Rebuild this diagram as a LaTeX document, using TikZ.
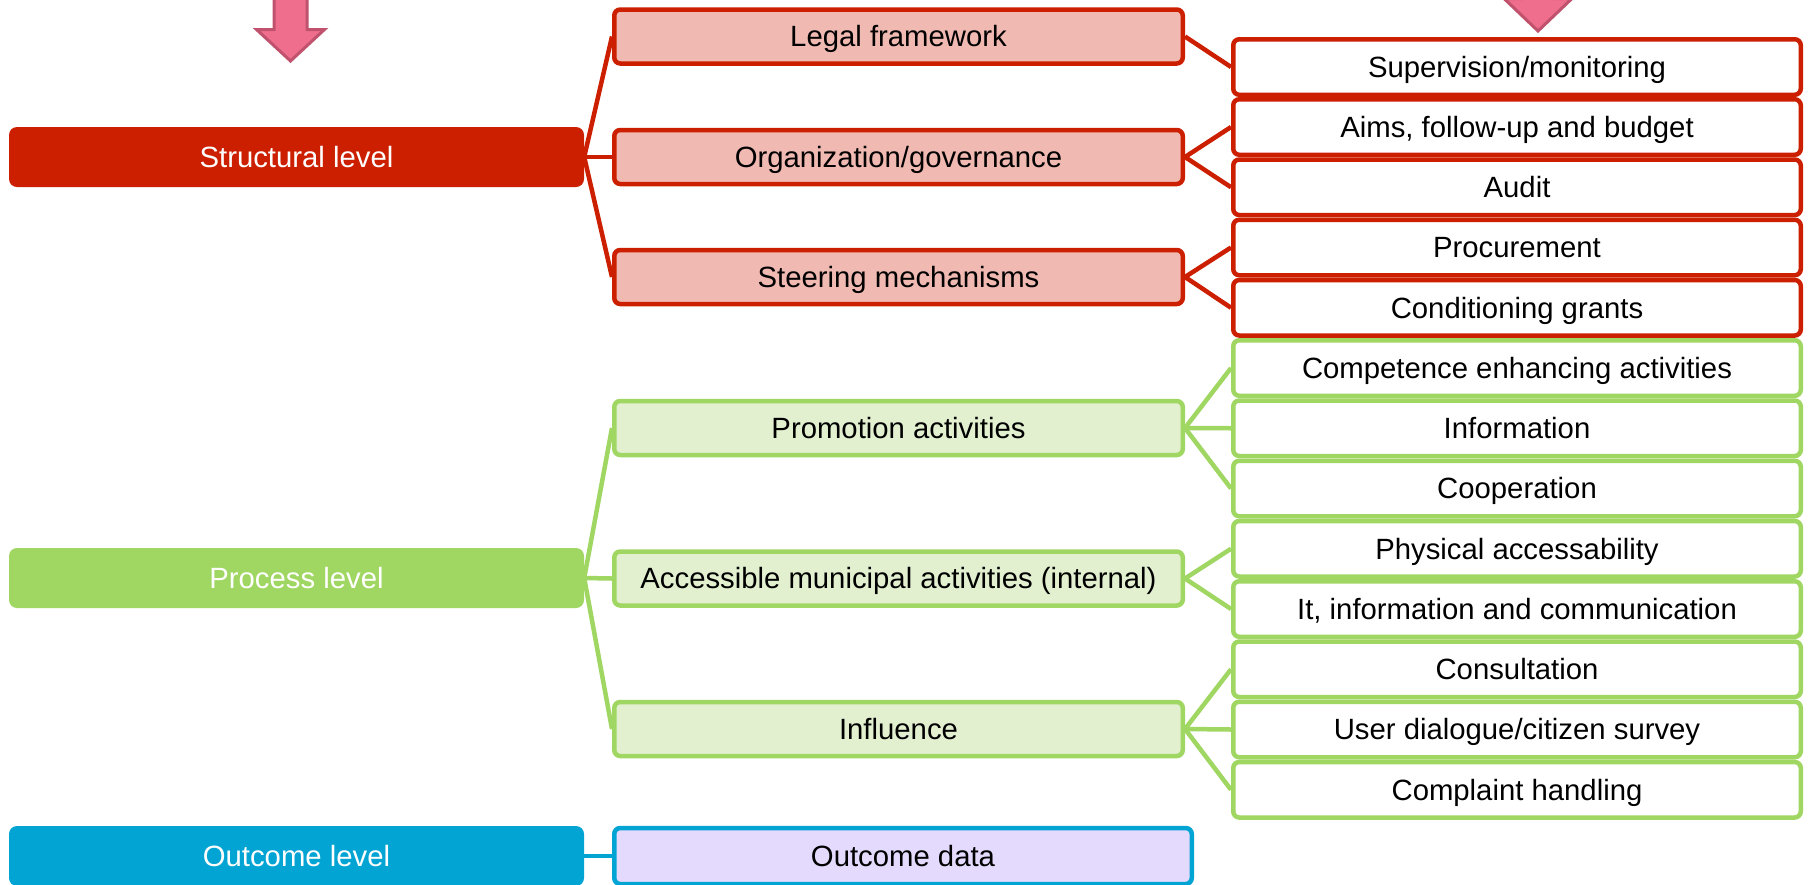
\documentclass[tikz,border=0pt]{standalone}
\usepackage{fontspec}
\setmainfont{Liberation Sans}
\definecolor{cred}{RGB}{204,31,0}
\definecolor{cpink}{RGB}{240,185,178}
\definecolor{cgreen}{RGB}{160,214,98}
\definecolor{cgreenfill}{RGB}{226,240,208}
\definecolor{cblue}{RGB}{2,164,212}
\definecolor{clav}{RGB}{228,218,254}
\definecolor{carrowfill}{RGB}{239,110,141}
\definecolor{carrowline}{RGB}{192,82,110}
\begin{document}
\begin{tikzpicture}[x=1pt,y=-1pt,
  txt/.style={font=\fontsize{29.3}{34}\selectfont, inner sep=0pt, text height=20.8pt, text depth=0pt},
  lvl/.style={txt, rectangle, rounded corners=8pt, minimum width=575pt, minimum height=60pt, text=white},
  mid/.style={txt, rectangle, rounded corners=6pt, line width=4.5pt, minimum width=568.5pt, minimum height=54pt},
  leaf/.style={txt, rectangle, rounded corners=6pt, line width=4.5pt, minimum width=567.5pt, minimum height=55.5pt, fill=white},
  conn/.style={line width=4.5pt},
  bigarrow/.style={fill=carrowfill, draw=carrowline, line width=3pt, line join=miter}]
\useasboundingbox (0,0) rectangle (1812,884);

% arrows
\path[bigarrow] (274,-10) -- (274,29.5) -- (256.5,29.5) -- (290.5,61) -- (324.5,29.5) -- (307,29.5) -- (307,-10) -- cycle;
\path[bigarrow] (1521.5,-20) -- (1521.5,-1.5) -- (1504,-1.5) -- (1538,31) -- (1572,-1.5) -- (1554.5,-1.5) -- (1554.5,-20) -- cycle;

% level boxes
\node[lvl, fill=cred] (S) at (296.5,157) {Structural level};
\node[lvl, fill=cgreen] (P) at (296.5,578) {Process level};
\node[lvl, fill=cblue] (O) at (296.5,856) {Outcome level};

% middle column
\node[mid, draw=cred, fill=cpink] (L) at (898.5,36.5) {Legal framework};
\node[mid, draw=cred, fill=cpink] (G) at (898.5,157) {Organization/governance};
\node[mid, draw=cred, fill=cpink] (M) at (898.5,277) {Steering mechanisms};
\node[mid, draw=cgreen, fill=cgreenfill] (PA) at (898.5,428) {Promotion activities};
\node[mid, draw=cgreen, fill=cgreenfill] (AM) at (898.5,578.5) {Accessible municipal activities (internal)};
\node[mid, draw=cgreen, fill=cgreenfill] (IN) at (898.5,729) {Influence};
\node[mid, draw=cblue, fill=clav, minimum width=577.5pt, minimum height=56pt] (OD) at (903,856) {Outcome data};

% right column
\node[leaf, draw=cred] (R1) at (1517,67) {Supervision/monitoring};
\node[leaf, draw=cred] (R2) at (1517,127) {Aims, follow-up and budget};
\node[leaf, draw=cred] (R3) at (1517,187.25) {Audit};
\node[leaf, draw=cred] (R4) at (1517,247.5) {Procurement};
\node[leaf, draw=cred] (R5) at (1517,307.75) {Conditioning grants};
\node[leaf, draw=cgreen] (R6) at (1517,368) {Competence enhancing activities};
\node[leaf, draw=cgreen] (R7) at (1517,428.25) {Information};
\node[leaf, draw=cgreen] (R8) at (1517,488.5) {Cooperation};
\node[leaf, draw=cgreen] (R9) at (1517,548.75) {Physical accessability};
\node[leaf, draw=cgreen] (R10) at (1517,609) {It, information and communication};
\node[leaf, draw=cgreen] (R11) at (1517,669.25) {Consultation};
\node[leaf, draw=cgreen] (R12) at (1517,729.5) {User dialogue/citizen survey};
\node[leaf, draw=cgreen] (R13) at (1517,789.75) {Complaint handling};

% connectors
\foreach \c in {L,G,M} \draw[conn, cred] (S.east) -- (\c.west);
\foreach \c in {PA,AM,IN} \draw[conn, cgreen] (P.east) -- (\c.west);
\draw[conn, cblue] (O.east) -- (OD.west);
\draw[conn, cred] (L.east) -- (R1.west);
\foreach \c in {R2,R3} \draw[conn, cred] (G.east) -- (\c.west);
\foreach \c in {R4,R5} \draw[conn, cred] (M.east) -- (\c.west);
\foreach \c in {R6,R7,R8} \draw[conn, cgreen] (PA.east) -- (\c.west);
\foreach \c in {R9,R10} \draw[conn, cgreen] (AM.east) -- (\c.west);
\foreach \c in {R11,R12,R13} \draw[conn, cgreen] (IN.east) -- (\c.west);
\end{tikzpicture}
\end{document}
